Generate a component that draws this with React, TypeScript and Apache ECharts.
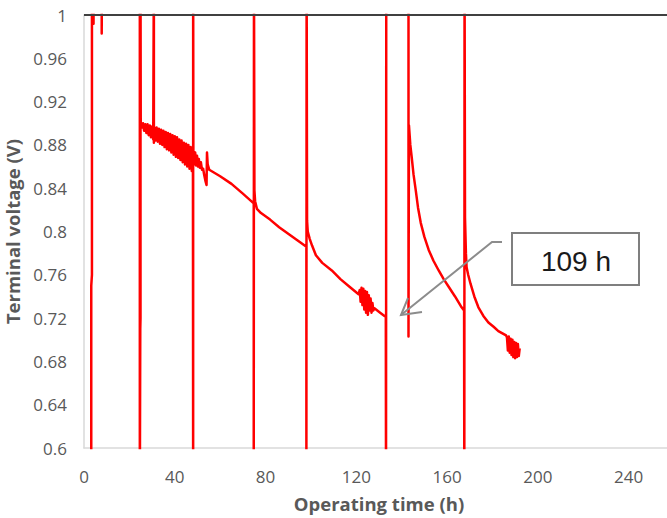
import React, { useEffect, useRef } from "react";
import * as echarts from "echarts";

// Axis ticks
const xTicks = { min: 0, max: 260, interval: 40 };
const yTicks = { min: 0.6, max: 1, interval: 0.04 };

// Off-scale values used for the interruptions (voltage leaves the plotted range)
const LOW = 0.55;
const HIGH = 1.05;

// Start-up and first interruptions (h, V)
const startup: number[][] = [
  [3.2, LOW], [3.2, 0.75], [3.5, 0.76], [3.5, HIGH],
  [4.2, HIGH], [4.2, 0.992], [4.3, HIGH],
  [7.8, HIGH], [7.8, 0.983], [7.9, HIGH],
  [24.6, HIGH], [24.6, LOW], [24.8, LOW], [24.8, 0.71], [24.9, 0.72], [24.9, HIGH],
  [25.0, HIGH],
];

// First operating period, oscillating voltage (h, V)
const run1a: number[][] = [
  [25.0, 0.901], [25.5, 0.896], [26.0, 0.900], [26.5, 0.893], [27.0, 0.899],
  [27.5, 0.891], [28.0, 0.899], [28.5, 0.889], [29.0, 0.898], [29.5, 0.887],
  [30.0, 0.897], [30.5, 0.885], [30.8, HIGH], [30.8, 0.882],
];
const run1b: number[][] = [
  [31.0, 0.896], [31.5, 0.884], [32.0, 0.896], [32.5, 0.883], [33.0, 0.895],
  [33.5, 0.881], [34.0, 0.894], [34.5, 0.880], [35.0, 0.893], [35.5, 0.878],
  [36.0, 0.892], [36.5, 0.876], [37.0, 0.891], [37.5, 0.875], [38.0, 0.890],
  [38.5, 0.873], [39.0, 0.889], [39.5, 0.871], [40.0, 0.888], [40.5, 0.869],
  [41.0, 0.887], [41.5, 0.868], [42.0, 0.885], [42.5, 0.866], [43.0, 0.884],
  [43.5, 0.864], [44.0, 0.882], [44.5, 0.862], [45.0, 0.881], [45.5, 0.860],
  [46.0, 0.880], [46.5, 0.858], [47.0, 0.878], [47.5, 0.856], [48.0, 0.877],
  [48.1, LOW], [48.1, HIGH],
];
const run1c: number[][] = [
  [48.2, 0.874], [48.6, 0.862], [49.0, 0.873], [49.4, 0.861], [49.8, 0.870],
  [50.2, 0.860], [50.6, 0.867], [51.0, 0.859], [51.5, 0.864], [52.0, 0.857],
  [52.5, 0.858], [53.0, 0.852], [53.6, 0.846], [54.0, 0.843], [54.2, 0.873],
  [54.5, 0.862], [55.2, 0.857], [60.0, 0.851], [65.0, 0.844], [70.0, 0.835],
  [74.8, 0.826], [74.8, LOW], [74.9, LOW], [74.9, HIGH], [75.1, HIGH],
];
const run2: number[][] = [
  [75.1, 0.838], [75.4, 0.828], [76.2, 0.821], [78.0, 0.817], [82.0, 0.811],
  [86.0, 0.804], [90.0, 0.798], [94.0, 0.792], [98.0, 0.786],
  [98.0, LOW], [98.1, LOW], [98.1, HIGH], [98.3, HIGH],
];
const run3: number[][] = [
  [98.3, 0.81], [98.6, 0.800], [99.5, 0.793], [100.5, 0.787], [102.2, 0.778],
  [105.0, 0.771], [109.2, 0.764], [113.0, 0.756], [117.0, 0.749], [121.0, 0.742],
  [121.5, 0.746], [121.9, 0.735], [122.3, 0.748], [122.7, 0.732], [123.1, 0.747],
  [123.5, 0.728], [123.9, 0.745], [124.3, 0.725], [124.7, 0.744], [125.1, 0.723],
  [125.5, 0.741], [125.9, 0.727], [126.3, 0.738], [126.7, 0.725], [127.1, 0.734],
  [127.5, 0.727], [128.0, 0.729], [130.5, 0.725], [133.0, 0.721],
  [133.1, LOW], [133.2, LOW], [133.2, HIGH], [143.0, HIGH], [143.0, 0.703],
];
const run4: number[][] = [
  [143.2, 0.898], [143.8, 0.880], [144.4, 0.869], [145.2, 0.853], [146.2, 0.838],
  [147.2, 0.822], [148.4, 0.808], [150.0, 0.795], [151.9, 0.783], [154.0, 0.773],
  [156.3, 0.764], [158.5, 0.756], [160.7, 0.749], [163.5, 0.740], [166.4, 0.730],
  [167.5, 0.727], [167.6, LOW], [167.7, LOW], [167.7, HIGH], [167.9, HIGH],
];
const run5: number[][] = [
  [167.9, 0.813], [168.3, 0.780], [168.6, 0.767], [169.3, 0.760], [170.3, 0.752],
  [172.0, 0.740], [173.8, 0.730], [176.0, 0.722], [178.2, 0.716], [180.5, 0.712],
  [182.6, 0.708], [186.0, 0.704], [186.4, 0.702], [186.8, 0.690], [187.2, 0.703],
  [187.6, 0.688], [188.0, 0.701], [188.4, 0.686], [188.8, 0.700], [189.2, 0.684],
  [189.6, 0.698], [190.0, 0.683], [190.4, 0.697], [190.8, 0.684], [191.2, 0.696],
  [191.6, 0.685], [192.0, 0.692],
];

const annotationText = "109 h";
const xName = "Operating time (h)";
const yName = "Terminal voltage (V)";

const FONT = "'Open Sans', 'Noto Sans', sans-serif";

export default function App() {
  const ref = useRef<HTMLDivElement>(null);

  useEffect(() => {
    if (!ref.current) return;
    const chart = echarts.init(ref.current, null, { renderer: "svg" });
    const data = [...startup, ...run1a, ...run1b, ...run1c, ...run2, ...run3, ...run4, ...run5];

    chart.setOption({
      animation: false,
      backgroundColor: "#ffffff",
      grid: {
        left: 84,
        top: 15,
        width: 590,
        bottom: 70,
        containLabel: false,
        outerBoundsMode: "none",
      },
      xAxis: {
        type: "value",
        min: xTicks.min,
        max: xTicks.max,
        interval: xTicks.interval,
        name: xName,
        nameLocation: "middle",
        nameGap: 46,
        nameTextStyle: { fontFamily: FONT, fontSize: 18.5, fontWeight: "bold", color: "#595959" },
        axisLine: { show: true, lineStyle: { color: "#d9d9d9", width: 1.5 } },
        axisTick: { show: false },
        splitLine: { show: false },
        axisLabel: {
          showMaxLabel: false,
          margin: 20,
          fontFamily: FONT,
          fontSize: 17,
          color: "#595959",
        },
      },
      yAxis: {
        type: "value",
        min: yTicks.min,
        max: yTicks.max,
        interval: yTicks.interval,
        name: yName,
        nameLocation: "middle",
        nameGap: 57,
        nameTextStyle: { fontFamily: FONT, fontSize: 18.5, fontWeight: "bold", color: "#595959" },
        axisLine: { show: true, lineStyle: { color: "#d9d9d9", width: 1.5 } },
        axisTick: { show: false },
        splitLine: { show: false },
        axisLabel: {
          margin: 17,
          fontFamily: FONT,
          fontSize: 17,
          color: "#595959",
          formatter: (v: number) => String(Number(v.toFixed(2))),
        },
      },
      series: [
        {
          type: "line",
          data,
          showSymbol: false,
          symbol: "none",
          clip: true,
          lineStyle: { color: "#ff0000", width: 2.5, join: "round" },
          markLine: {
            silent: true,
            symbol: "none",
            label: { show: false },
            lineStyle: { color: "#404040", width: 2, type: "solid" },
            data: [{ yAxis: yTicks.max }],
          },
        },
      ],
      graphic: [
        {
          type: "polyline",
          z: 100,
          shape: { points: [[502, 242], [492, 242], [401, 315]] },
          style: { stroke: "#8c8c8c", lineWidth: 2, fill: "none" },
        },
        {
          type: "polyline",
          z: 100,
          shape: { points: [[422, 312], [401, 315], [408, 298]] },
          style: { stroke: "#8c8c8c", lineWidth: 2, fill: "none" },
        },
        {
          type: "rect",
          z: 100,
          shape: { x: 512, y: 233, width: 127, height: 52 },
          style: { fill: "#ffffff", stroke: "#7f7f7f", lineWidth: 2 },
        },
        {
          type: "text",
          z: 101,
          x: 576,
          y: 261,
          style: {
            text: annotationText,
            fill: "#1a1a1a",
            font: "28px 'Liberation Sans', Arial, sans-serif",
            textAlign: "center",
            textVerticalAlign: "middle",
          },
        },
      ],
    });

    return () => chart.dispose();
  }, []);

  return (
    <div
      ref={ref}
      style={{ position: "fixed", left: 0, top: 0, width: 667, height: 518, background: "#fff" }}
    />
  );
}
